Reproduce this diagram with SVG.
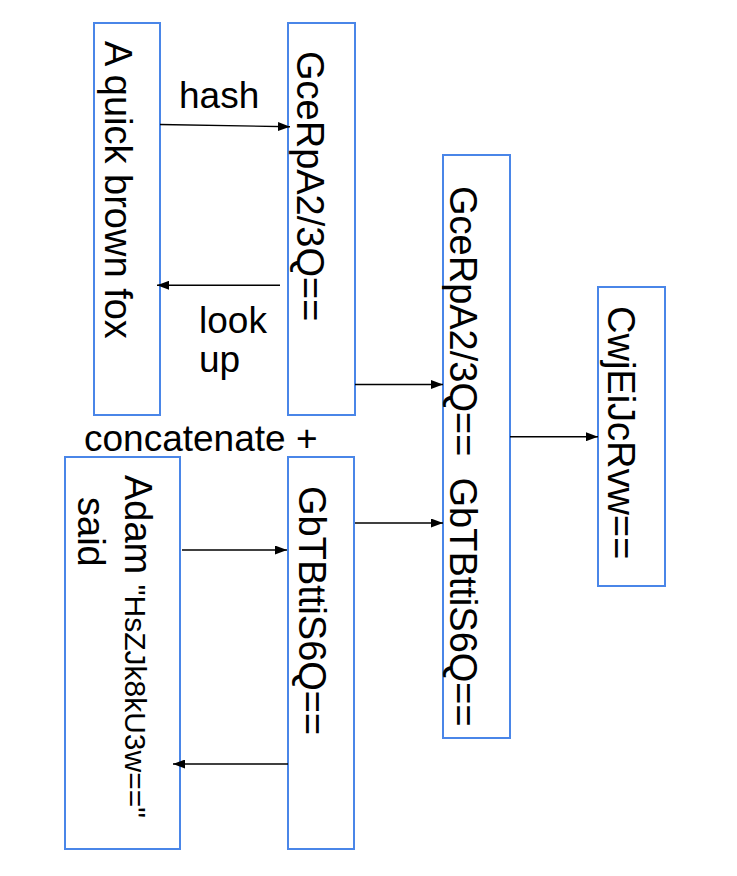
<svg xmlns="http://www.w3.org/2000/svg" width="737" height="876" viewBox="0 0 737 876">
<style>
.box{fill:#fff;stroke:#4a86e8;stroke-width:2}
.t{font-family:"Liberation Sans",Arial,sans-serif;font-size:38px;fill:#000}
.lbl{font-family:"Liberation Sans",Arial,sans-serif;font-size:37px;fill:#000}
.c{stroke:#000;stroke-width:1.4;fill:none;marker-end:url(#ah)}
</style>
<defs>
<marker id="ah" markerUnits="userSpaceOnUse" markerWidth="12" markerHeight="9" refX="12" refY="4.5" orient="auto">
<path d="M0,0 L12,4.5 L0,9 z" fill="#000"/>
</marker>
</defs>
<rect width="737" height="876" fill="#fff"/>
<g id="n1"><rect class="box" x="94" y="23" width="66" height="392"/><text class="t" transform="translate(105,41) rotate(90)">A quick brown fox</text></g>
<g id="n2"><rect class="box" x="288" y="23" width="67" height="392"/><text class="t" transform="translate(297,51) rotate(90)">GceRpA2/3Q==</text></g>
<g id="n3"><rect class="box" x="443" y="155" width="67" height="583"/><text class="t" xml:space="preserve" transform="translate(450,186) rotate(90)">GceRpA2/3Q==  GbTBttiS6Q==</text></g>
<g id="n4"><rect class="box" x="598" y="287" width="67" height="299"/><text class="t" transform="translate(608,306) rotate(90)">CwjEiJcRvw==</text></g>
<g id="n5"><rect class="box" x="65" y="457" width="115" height="392"/><text class="t" xml:space="preserve" transform="translate(125,475) rotate(90)">Adam <tspan font-size="30">"HsZJk8kU3w=="</tspan></text><text class="t" transform="translate(78,497) rotate(90)">said</text></g>
<g id="n6"><rect class="box" x="288" y="457" width="66" height="392"/><text class="t" transform="translate(299,486) rotate(90)">GbTBttiS6Q==</text></g>
<g id="connectors">
<line class="c" x1="160" y1="124.5" x2="290" y2="126.7"/>
<line class="c" x1="280" y1="285.3" x2="157" y2="285.3"/>
<line class="c" x1="355" y1="384.5" x2="443" y2="384.5"/>
<line class="c" x1="510" y1="436.7" x2="598" y2="436.7"/>
<line class="c" x1="182" y1="550" x2="287" y2="550"/>
<line class="c" x1="355" y1="523" x2="443" y2="523"/>
<line class="c" x1="288" y1="764" x2="173" y2="764"/>
</g>
<g id="labels">
<text class="lbl" x="179" y="107.7" font-size="37.5">hash</text>
<text class="lbl" x="199" y="333">look</text>
<text class="lbl" x="199" y="372">up</text>
<text class="lbl" x="84" y="451" font-size="39">concatenate +</text>
</g>
</svg>
